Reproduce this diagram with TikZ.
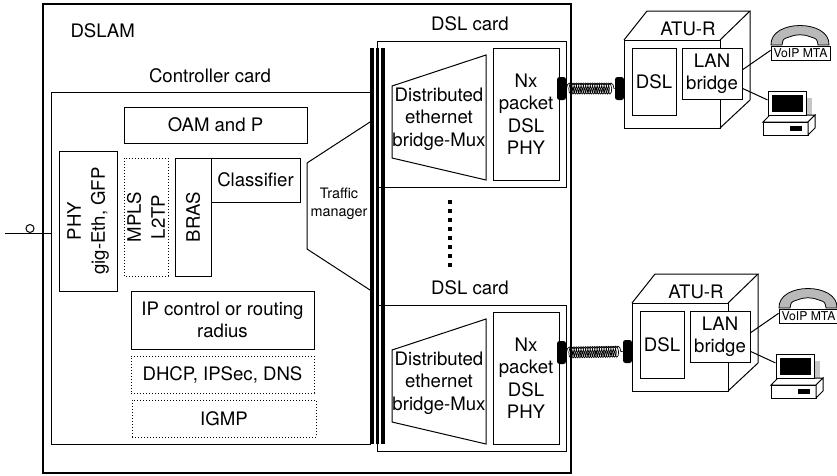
\documentclass[tikz,border=0pt]{standalone}
\usepackage{fontspec}
\setmainfont{TeX Gyre Heros}
\usetikzlibrary{decorations.pathmorphing}
\newcommand{\bigfont}{\fontsize{18.6}{22.5}\selectfont}
\newcommand{\smallfont}{\fontsize{14.4}{18}\selectfont}
\newcommand{\tinyfont}{\fontsize{12.2}{14}\selectfont}
\begin{document}
\begin{tikzpicture}[x=1pt,y=-1pt,line width=1pt,
  every node/.style={inner sep=0pt,font=\bigfont,align=center},
  box/.style={draw,fill=white},
  dotbox/.style={draw,dotted},
  rotbox/.style={draw,fill=white,rotate=90,font=\fontsize{18.6}{24}\selectfont},
  plug/.style={fill=black,rounded corners=2.5pt,minimum width=9,minimum height=23},
  coilline/.style={decorate,decoration={coil,amplitude=5.5pt,segment length=2.3pt,aspect=0.45},line width=0.7pt},
]
\useasboundingbox (0,0) rectangle (837,475);

% ---- controller card ----
\node[draw,minimum width=318.3,minimum height=352] (ctrl) at (210.85,268) {};
\node (ctrllabel) at (210,76) {Controller card};
\node[box,minimum width=183,minimum height=36] (oam) at (215.5,125) {OAM and P};
\node[rotbox,minimum width=140,minimum height=58] (phy) at (88,221) {PHY\\gig-Eth, GFP};
\node[rotbox,fill=none,dotted,minimum width=118,minimum height=44] (mpls) at (146,217) {MPLS\\L2TP};
\node[rotbox,minimum width=118,minimum height=36] (bras) at (193,217) {BRAS};
\node[box,minimum width=89,minimum height=44] (cls) at (255.5,180) {Classifier};
\node[box,minimum width=183,minimum height=58] (ipc) at (222.5,320) {IP control or routing\\radius};
\node[dotbox,minimum width=183,minimum height=37] (dhcp) at (222.5,374.5) {DHCP, IPSec, DNS};
\node[dotbox,minimum width=184,minimum height=37] (igmp) at (224,418.5) {IGMP};

% traffic manager funnel
\draw (370,122) -- (307,163) -- (307,249) -- (370,290);
\node[font=\smallfont] (tm) at (339,204) {Traffic\\manager};

% external port
\coordinate (ext) at (5,233);
\draw (ext) -- (ctrl.west |- ext);
\node[draw,circle,minimum size=8] (port) at (30,228.5) {};

% ---- DSL cards and customer premises ----
\foreach \k/\cy/\ax/\ay in {1/0/0/0,2/264/8/263}{
  \begin{scope}[yshift=-\cy pt]
    \node[draw,minimum width=189,minimum height=146] (card\k) at (471.5,114) {};
    \node (cardlabel\k) at (470,24) {DSL card};
    \draw (392,86) -- (486,55) -- (486,180) -- (392,158) -- cycle;
    \node (mux\k) at (439,119) {Distributed\\ethernet\\bridge-Mux};
    \node[box,minimum width=66,minimum height=132] (phyd\k) at (526,114) {Nx\\packet\\DSL\\PHY};
    \node[plug] (plugA\k) at (561.5,88.5) {};
  \end{scope}
  \begin{scope}[xshift=\ax pt,yshift=-\ay pt]
    % ATU-R housing
    \draw (624,40) rectangle (720,128);
    \draw (624,40) -- (647,11) -- (750,11) -- (720,40);
    \draw (750,11) -- (750,100) -- (720,128);
    \node (atu\k) at (688,29) {ATU-R};
    \node[box,minimum width=44,minimum height=67] (dsl\k) at (654,81.5) {DSL};
    \node[box,minimum width=60,minimum height=51] (lan\k) at (712,73.5) {LAN\\bridge};
    \node[plug] (plugB\k) at (619.5,88.5) {};
    % telephone
    \draw[fill=gray!55,line width=0.8pt] (771,45) .. controls (770,19) and (830,19) .. (829,45)
      -- (818,45) .. controls (817,39) .. (811,37) .. controls (804,34) and (796,34) .. (789,37)
      .. controls (783,39) .. (782,45) -- cycle;
    \node[box,font=\tinyfont,minimum width=59,minimum height=14] (voip\k) at (800.5,53) {VoIP MTA};
    % computer
    \fill[gray!45] (806,98) rectangle (812,116);
    \draw[fill=white] (763,122) -- (770,115) -- (815,115) -- (808,122) -- cycle;
    \draw[fill=white] (763,122) rectangle (808,135);
    \draw[fill=white] (808,122) -- (815,115) -- (815,128) -- (808,135) -- cycle;
    \fill (790,126) rectangle (802,131);
    \node[box,minimum width=38,minimum height=24] (pc\k) at (787,103) {};
    \fill (771.5,94.5) rectangle (802.5,111.5);
  \end{scope}
  \draw[coilline] (plugA\k.east) -- (plugB\k.west);
  \draw (lan\k.7) -- (voip\k.175);
  \draw (lan\k.-26) -- (pc\k.171);
}

% more cards in between
\draw[line width=4pt,dash pattern=on 4pt off 5pt] (450,200) -- (450,270);

% backplane bus
\fill (369.5,48) rectangle (373.5,444);
\fill (375.5,48) rectangle (379,444);
\fill (381,48) rectangle (384.5,444);

% ---- DSLAM chassis ----
\node[draw,line width=2pt,minimum width=527.7,minimum height=468.7] (dslam) at (307.2,238.35) {};
\node[anchor=west] (dslamlabel) at (70,31) {DSLAM};
\end{tikzpicture}
\end{document}
